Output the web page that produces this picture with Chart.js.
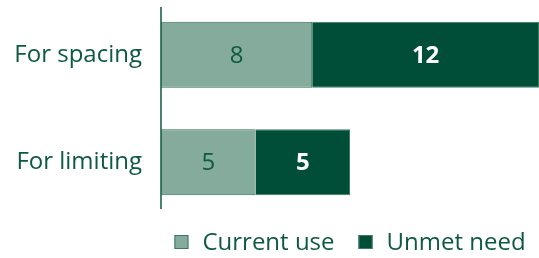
<!DOCTYPE html>
<html><head><meta charset="utf-8">
<script src="https://cdn.jsdelivr.net/npm/chart.js@4"></script>
<style>html,body{margin:0;padding:0;background:#fff}#wrap{width:539px;height:258px;position:relative}</style>
</head><body><div id="wrap"><canvas id="c"></canvas></div>
<script>
const categories = ["For spacing", "For limiting"];
const currentUse = [8, 5];
const unmetNeed = [12, 5];
const seriesNames = ["Current use", "Unmet need"];

const TEXT = '#0d5a40';
const LIGHT = '#85ab9c';
const DARK = '#004e38';
const FONT = '"Open Sans", sans-serif';
const FS = 24;

const labelsPlugin = {
  id: 'vals',
  afterDatasetsDraw(chart) {
    const ctx = chart.ctx;
    chart.data.datasets.forEach((ds, di) => {
      const meta = chart.getDatasetMeta(di);
      meta.data.forEach((bar, i) => {
        const x = (bar.x + bar.base) / 2;
        ctx.save();
        ctx.textAlign = 'center';
        ctx.textBaseline = 'middle';
        ctx.fillStyle = di === 0 ? TEXT : '#ffffff';
        ctx.font = (di === 0 ? '' : 'bold ') + FS + 'px ' + FONT;
        ctx.fillText(String(ds.data[i]), x, bar.y + 1);
        ctx.restore();
      });
    });
  }
};
const axisLine = {
  id: 'axisLine',
  afterDatasetsDraw(chart) {
    const ctx = chart.ctx;
    const x = chart.chartArea.left;
    ctx.save();
    ctx.strokeStyle = TEXT;
    ctx.lineWidth = 1.5;
    ctx.beginPath();
    ctx.moveTo(x, 7);
    ctx.lineTo(x, 209);
    ctx.stroke();
    ctx.restore();
  }
};
const legendPlugin = {
  id: 'customLegend',
  afterDraw(chart) {
    const ctx = chart.ctx;
    const colors = [LIGHT, DARK];
    const box = 14, gapText = 14, gapItem = 24;
    ctx.save();
    ctx.font = FS + 'px ' + FONT;
    const widths = seriesNames.map(t => ctx.measureText(t).width);
    const total = widths.reduce((a, w) => a + box + gapText + w, 0) + gapItem * (seriesNames.length - 1);
    const ca = chart.chartArea;
    let x = (ca.left + ca.right) / 2 - total / 2;
    const cy = 242;
    seriesNames.forEach((t, i) => {
      ctx.fillStyle = colors[i];
      ctx.fillRect(x, cy - box / 2, box, box);
      ctx.strokeStyle = '#3d7a64';
      ctx.lineWidth = 1;
      ctx.strokeRect(x + 0.5, cy - box / 2 + 0.5, box - 1, box - 1);
      ctx.fillStyle = TEXT;
      ctx.textBaseline = 'middle';
      ctx.textAlign = 'left';
      ctx.fillText(t, x + box + gapText, cy + 1);
      x += box + gapText + widths[i] + gapItem;
    });
    ctx.restore();
  }
};

new Chart(document.getElementById('c'), {
  type: 'bar',
  data: {
    labels: categories,
    datasets: [
      { label: seriesNames[0], data: currentUse, backgroundColor: LIGHT, borderColor: '#2f6e56', borderWidth: 1 },
      { label: seriesNames[1], data: unmetNeed, backgroundColor: DARK, borderColor: '#3d7a64', borderWidth: 1 }
    ]
  },
  options: {
    indexAxis: 'y',
    responsive: true,
    maintainAspectRatio: false,
    animation: false,
    datasets: { bar: { categoryPercentage: 1, barPercentage: 0.615 } },
    layout: { padding: { top: 1, right: 0, left: 0, bottom: 42 } },
    scales: {
      x: { stacked: true, min: 0, max: 20, display: false },
      y: {
        stacked: true,
        grid: { display: false, drawTicks: false },
        border: { display: false },
        ticks: { color: TEXT, font: { family: FONT, size: FS }, padding: 19 },
        afterFit(s) { s.width = 161; s.paddingTop = 0; s.paddingBottom = 0; }
      }
    },
    plugins: {
      legend: { display: false },
      tooltip: { enabled: false }
    }
  },
  plugins: [labelsPlugin, axisLine, legendPlugin]
});
</script></body></html>
